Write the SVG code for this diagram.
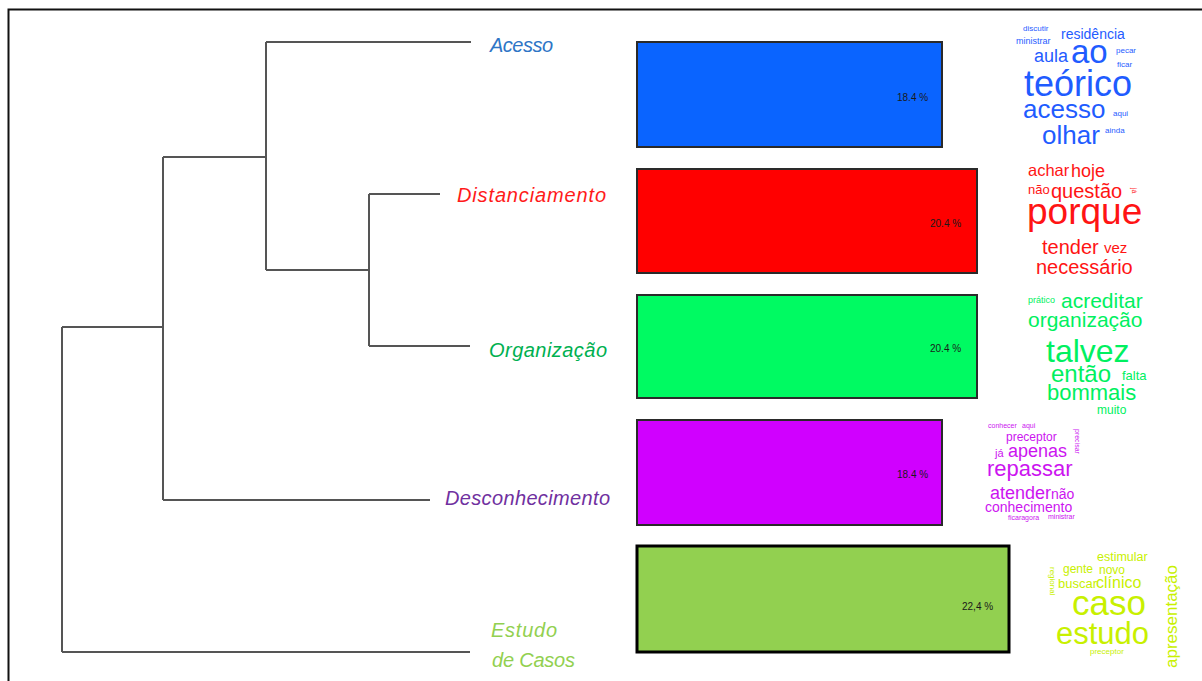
<svg xmlns="http://www.w3.org/2000/svg" width="1202" height="681" viewBox="0 0 1202 681">
  <style>
    .tree { fill: none; stroke: #555555; stroke-width: 2; }
    .lbl { font-family: "Liberation Sans", Arial, sans-serif; font-style: italic; font-size: 20px; }
    .bar { stroke: #2a2a2a; stroke-width: 2; }
    .pct { font-family: "Liberation Sans", Arial, sans-serif; font-size: 10px; fill: #1a1a1a; }
    .wc { font-family: "Liberation Sans", Arial, sans-serif; }
    .blue { fill: #1f5cff; }
    .red { fill: #ff1414; }
    .green { fill: #00f060; }
    .purple { fill: #cc14f0; }
    .lime { fill: #c8f000; }
  </style>

  <rect x="0" y="0" width="1202" height="681" fill="#ffffff"/>
  <!-- outer frame (top and left edges) -->
  <path d="M8.5,681 V9.5 H1202" fill="none" stroke="#111111" stroke-width="2"/>

  <!-- dendrogram -->
  <g id="connectors">
    <path class="tree" d="M266,42 H471"/>
    <path class="tree" d="M266,42 V270"/>
    <path class="tree" d="M163,157 H266"/>
    <path class="tree" d="M266,270 H369"/>
    <path class="tree" d="M369,194 V346"/>
    <path class="tree" d="M369,194 H440"/>
    <path class="tree" d="M369,346 H470"/>
    <path class="tree" d="M163,157 V500"/>
    <path class="tree" d="M163,500 H430"/>
    <path class="tree" d="M62,327 H163"/>
    <path class="tree" d="M62,327 V652"/>
    <path class="tree" d="M62,652 H470"/>
  </g>

  <!-- class 1 -->
  <g id="acesso">
    <text class="lbl" x="490" y="52" fill="#2e75c6" textLength="63">Acesso</text>
    <rect class="bar" x="637" y="42" width="305" height="105" fill="#0a64ff"/>
    <text class="pct" x="897" y="101">18.4 %</text>
    <g class="wc blue">
      <text x="1023" y="31" font-size="8">discutir</text>
      <text x="1016" y="44" font-size="9">ministrar</text>
      <text x="1061" y="39" font-size="14">residência</text>
      <text x="1034" y="62" font-size="18">aula</text>
      <text x="1071" y="63" font-size="33">ao</text>
      <text x="1116" y="53" font-size="8">pecar</text>
      <text x="1117" y="67" font-size="8">ficar</text>
      <text x="1024" y="96" font-size="36">teórico</text>
      <text x="1023" y="118" font-size="26">acesso</text>
      <text x="1113" y="116" font-size="8">aqui</text>
      <text x="1042" y="144" font-size="26">olhar</text>
      <text x="1105" y="133" font-size="8">ainda</text>
    </g>
  </g>

  <!-- class 2 -->
  <g id="distanciamento">
    <text class="lbl" x="457" y="202" fill="#ff1a1a" textLength="149">Distanciamento</text>
    <rect class="bar" x="637" y="169" width="340" height="104" fill="#ff0000"/>
    <text class="pct" x="930" y="227">20.4 %</text>
    <g class="wc red">
      <text x="1028" y="176" font-size="16.5">achar</text>
      <text x="1071" y="177" font-size="18">hoje</text>
      <text x="1028" y="194" font-size="13">não</text>
      <text x="1051" y="198" font-size="20">questão</text>
      <text transform="translate(1132,188) rotate(90)" font-size="7">já</text>
      <text x="1027" y="224" font-size="37">porque</text>
      <text x="1042" y="254" font-size="20">tender</text>
      <text x="1104" y="253" font-size="15">vez</text>
      <text x="1036" y="274" font-size="20">necessário</text>
    </g>
  </g>

  <!-- class 3 -->
  <g id="organizacao">
    <text class="lbl" x="489" y="357" fill="#00b050" textLength="118">Organização</text>
    <rect class="bar" x="637" y="295" width="340" height="103" fill="#00fa62"/>
    <text class="pct" x="930" y="352">20.4 %</text>
    <g class="wc green">
      <text x="1028" y="303" font-size="9">prático</text>
      <text x="1061" y="308" font-size="21">acreditar</text>
      <text x="1028" y="327" font-size="21">organização</text>
      <text x="1046" y="362" font-size="32">talvez</text>
      <text x="1051" y="382" font-size="24">então</text>
      <text x="1122" y="380" font-size="13">falta</text>
      <text x="1047" y="400" font-size="22">bommais</text>
      <text x="1097" y="414" font-size="12">muito</text>
    </g>
  </g>

  <!-- class 4 -->
  <g id="desconhecimento">
    <text class="lbl" x="445" y="505" fill="#7030a0" textLength="165">Desconhecimento</text>
    <rect class="bar" x="637" y="420" width="305" height="105" fill="#d000ff"/>
    <text class="pct" x="897" y="478">18.4 %</text>
    <g class="wc purple">
      <text x="988" y="428" font-size="7">conhecer</text>
      <text x="1022" y="428" font-size="7">aqui</text>
      <text x="1006" y="441" font-size="12">preceptor</text>
      <text transform="translate(1075,429) rotate(90)" font-size="7">precisar</text>
      <text x="995" y="457" font-size="11">já</text>
      <text x="1008" y="457" font-size="18">apenas</text>
      <text x="987" y="476" font-size="22">repassar</text>
      <text x="990" y="499" font-size="18">atender</text>
      <text x="1051" y="499" font-size="14">não</text>
      <text x="985" y="512" font-size="14">conhecimento</text>
      <text x="1008" y="520" font-size="7">ficaragora</text>
      <text x="1048" y="519" font-size="7">ministrar</text>
    </g>
  </g>

  <!-- class 5 -->
  <g id="estudo-de-casos">
    <text class="lbl" x="491" y="637" fill="#92d050" textLength="66">Estudo</text>
    <text class="lbl" x="492" y="667" fill="#92d050" textLength="83">de Casos</text>
    <rect x="637" y="546" width="372" height="106" fill="#92d050" stroke="#000000" stroke-width="3"/>
    <text class="pct" x="962" y="610">22,4 %</text>
    <g class="wc lime">
      <text x="1097" y="561" font-size="12.5">estimular</text>
      <text x="1063" y="573" font-size="12">gente</text>
      <text x="1099" y="574" font-size="12">novo</text>
      <text transform="translate(1050,567) rotate(90)" font-size="8">regional</text>
      <text x="1058" y="588" font-size="13">buscar</text>
      <text x="1096" y="588" font-size="16">clínico</text>
      <text x="1072" y="615" font-size="35">caso</text>
      <text x="1056" y="644" font-size="31">estudo</text>
      <text x="1090" y="654" font-size="8">preceptor</text>
      <text transform="translate(1177,668) rotate(-90)" font-size="17">apresentação</text>
    </g>
  </g>
</svg>
